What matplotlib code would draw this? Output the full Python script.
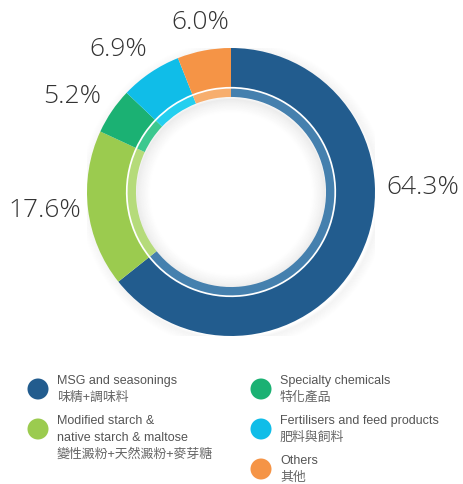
import matplotlib.pyplot as plt
from matplotlib.patches import Circle

# data
segments_en = [["MSG and seasonings"], ["Modified starch &", "native starch & maltose"],
               ["Specialty chemicals"], ["Fertilisers and feed products"], ["Others"]]
segments_zh = ["味精+調味料", "變性澱粉+天然澱粉+麥芽糖", "特化產品", "肥料與飼料", "其他"]
shares = [64.3, 17.6, 5.2, 6.9, 6.0]
pct_labels = ["64.3%", "17.6%", "5.2%", "6.9%", "6.0%"]

dark_colors = ["#225c8e", "#9bcb4f", "#1bb173", "#10bde8", "#f59446"]
light_colors = ["#4580ae", "#b5db7a", "#3cc88f", "#24cfef", "#f7ae6e"]

# label spots, in units of the ring radius
label_xy = [(1.33, 0.03), (-1.29, -0.13), (-1.10, 0.66), (-0.78, 0.99), (-0.215, 1.18)]

W, H = 464, 484
fig = plt.figure(figsize=(W / 100, H / 100), dpi=100)

# donut axes, centre (231,192) px, radius 144 px
cx, cy, r = 231, 192, 144
ax = fig.add_axes([(cx - r) / W, 1 - (cy + r) / H, 2 * r / W, 2 * r / H])
ax.set_xlim(-1, 1)
ax.set_ylim(-1, 1)
ax.set_aspect("equal")
ax.axis("off")

# soft shadow around ring and inside hole
for k in range(12):
    ax.add_patch(Circle((0.02, -0.02), 1.0 + k * 0.006, fill=False,
                        ec="#000000", lw=2.5, alpha=0.012 * (12 - k) / 12, zorder=0))
    ax.add_patch(Circle((0, -0.01), 0.66 - k * 0.008, fill=False,
                        ec="#000000", lw=2.5, alpha=0.026 * (12 - k) / 12, zorder=0))

ax.pie(shares, colors=dark_colors, radius=1.0, startangle=90, counterclock=False,
       wedgeprops=dict(width=0.27, linewidth=0))
ax.pie(shares, colors=light_colors, radius=0.718, startangle=90, counterclock=False,
       wedgeprops=dict(width=0.058, linewidth=0))
ax.set_xlim(-1, 1)
ax.set_ylim(-1, 1)

for (x, y), t in zip(label_xy, pct_labels):
    ax.text(x, y, t, ha="center", va="center", fontsize=19, color="#333333",
            family="Open Sans", fontweight="light", clip_on=False)

# legend, drawn in pixel coords
lg = fig.add_axes([0, 0, 1, 1])
lg.set_xlim(0, W)
lg.set_ylim(H, 0)
lg.axis("off")
lg.patch.set_alpha(0)

step = 17
dot_pos = [(38, 389), (38, 429), (261, 389), (261, 429), (261, 469)]
for i, (x, y) in enumerate(dot_pos):
    lg.add_patch(Circle((x, y), 10.5, color=dark_colors[i], lw=0))
    ty = y - 8
    for line in segments_en[i]:
        lg.text(x + 19, ty, line, ha="left", va="center", fontsize=9, color="#555555",
                family="Liberation Sans")
        ty += step
    lg.text(x + 19, ty - 1, segments_zh[i], ha="left", va="center", fontsize=9.3,
            color="#666666", family=["Noto Sans CJK TC", "DejaVu Sans"])

fig.savefig("out.png", dpi=100)
